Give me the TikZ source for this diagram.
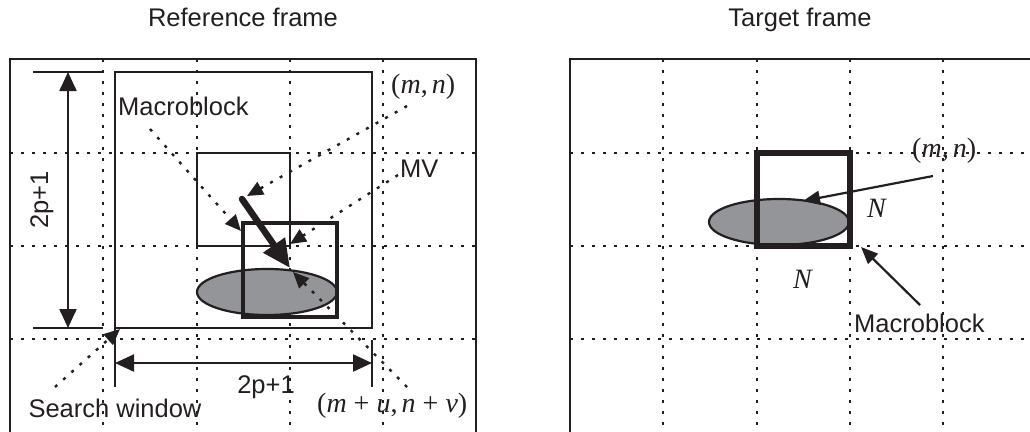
\documentclass[tikz,border=0pt]{standalone}
\usepackage{fontspec}
\setmainfont{Liberation Sans}
\newfontfamily\tnr{Liberation Serif}
\usetikzlibrary{arrows.meta}
\definecolor{ink}{HTML}{231F20}
\definecolor{blob}{HTML}{939598}
\tikzset{
 lab/.style={inner sep=0pt, font=\fontsize{25.5}{30}\selectfont, text=ink},
 mlab/.style={inner sep=0pt, font=\tnr\fontsize{28}{33}\selectfont, text=ink},
 gridline/.style={ink, line width=2.4pt, dash pattern=on 3pt off 8pt},
 frameline/.style={ink, line width=2.2pt},
 ptr/.style={ink, line width=2.4pt, dash pattern=on 3pt off 8pt, -{Triangle[length=16pt,width=14pt]}},
 solidptr/.style={ink, line width=2.2pt, -{Triangle[length=17pt,width=14pt]}},
 dimarrow/.style={ink, line width=2.2pt, {Triangle[length=19pt,width=17pt]}-{Triangle[length=19pt,width=17pt]}},
 blobshape/.style={fill=blob, draw=ink, line width=2.2pt},
}
\begin{document}
\begin{tikzpicture}[x=1pt,y=-1pt]
\useasboundingbox (0,0) rectangle (1030,431);
% grids
\foreach \x in {103,197,290,383} \draw[gridline] (\x,59) -- (\x,432);
\foreach \y in {153,246,339} \draw[gridline] (10,\y) -- (476,\y);
\foreach \x in {663,757,850,943} \draw[gridline] (\x,59) -- (\x,432);
\foreach \y in {153,246,339} \draw[gridline] (570,\y) -- (1032,\y);
% frames
\draw[frameline] (10,433) -- (10,59) -- (476,59) -- (476,433);
\draw[frameline] (570,433) -- (570,59) -- (1032,59);
% headings
\node[lab, anchor=base] (hl) at (243,27) {Reference frame};
\node[lab, anchor=base] (hr) at (800,27) {Target frame};
% ---------- reference frame ----------
\draw[frameline, line width=2pt] (115,72) rectangle (372,328);
\draw[frameline] (197,153) rectangle (290,246);
\path[blobshape] (267,292) ellipse [x radius=70pt, y radius=23pt];
\draw[ink, line width=4pt] (243,223) rectangle (337,317);
% vertical dimension
\coordinate (vt) at (68,72);
\coordinate (vb) at (68,328);
\draw[frameline] (33,72) -- (103,72);
\draw[frameline] (33,328) -- (103,328);
\draw[dimarrow] (vt) -- (vb);
\node[lab, rotate=90, anchor=base] (v2p) at (48,200) {2p+1};
% horizontal dimension
\coordinate (hlft) at (115,363);
\coordinate (hrgt) at (372,363);
\draw[frameline] (115,328) -- (115,387);
\draw[frameline] (372,340) -- (372,387);
\draw[dimarrow] (hlft) -- (hrgt);
\node[lab, anchor=base] (h2p) at (266,393) {2p+1};
% labels and pointers
\node[lab, anchor=base west] (mbl) at (118,115) {Macroblock};
\coordinate (mbls) at (150,129);
\coordinate (mblt) at (241,231);
\draw[ptr] (mbls) -- (mblt);
\coordinate (mvs) at (242,199);
\coordinate (mve) at (290,268);
\draw[ink, line width=6.5pt, line cap=round, -{Triangle[length=28pt,width=25pt]}] (mvs) -- (mve);
\node[mlab, anchor=base west] (mnl) at (391,93) {(\textit{m},\hspace{0.15em}\textit{n})};
\coordinate (mnls) at (407,106);
\coordinate (mnlt) at (247,196);
\draw[ptr] (mnls) -- (mnlt);
\node[lab, anchor=base west] (mv) at (400,177) {MV};
\coordinate (mvps) at (398,175);
\coordinate (mvpt) at (290,244);
\draw[ptr] (mvps) -- (mvpt);
\node[mlab, anchor=base west] (mun) at (317,412) {(\textit{m}\hspace{0.25em}+\hspace{0.25em}\textit{u},\hspace{0.15em}\textit{n}\hspace{0.25em}+\hspace{0.25em}\textit{v})};
\coordinate (muns) at (407,387);
\coordinate (munt) at (293,272);
\draw[ptr] (muns) -- (munt);
\node[lab, anchor=base] (sw) at (115,417) {Search window};
\coordinate (sws) at (55,387);
\coordinate (swt) at (120,329);
\draw[ptr] (sws) -- (swt);
% ---------- target frame ----------
\path[blobshape] (779,222) ellipse [x radius=70pt, y radius=23pt];
\draw[ink, line width=5.5pt] (757,153) rectangle (850,246);
\node[mlab, anchor=base west] (mnr) at (912,157) {(\textit{m},\hspace{0.15em}\textit{n})};
\coordinate (mnrs) at (933,176);
\coordinate (mnrt) at (803,201);
\draw[solidptr] (mnrs) -- (mnrt);
\node[mlab, anchor=base west] (n1) at (867,217) {\textit{N}};
\node[mlab, anchor=base west] (n2) at (793,288) {\textit{N}};
\node[lab, anchor=base west] (mbr) at (854,332) {Macroblock};
\coordinate (mbrs) at (920,305);
\coordinate (mbrt) at (861,247);
\draw[solidptr] (mbrs) -- (mbrt);
\end{tikzpicture}
\end{document}
